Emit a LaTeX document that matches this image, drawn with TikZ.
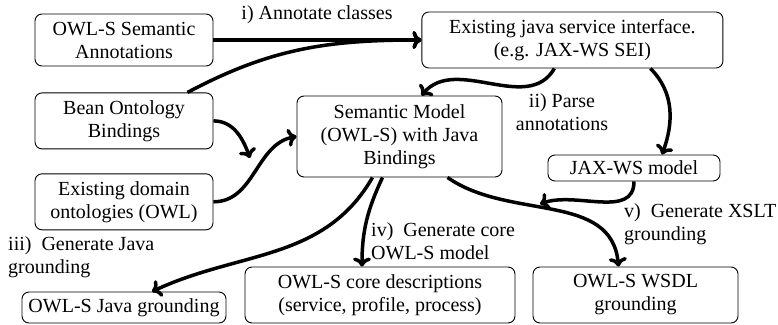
\documentclass[tikz,border=0pt]{standalone}
\usepackage{fontspec}
\setmainfont{Liberation Serif}
\usetikzlibrary{arrows.meta, positioning}

\begin{document}
\begin{tikzpicture}[
			x=1pt, y=-1pt,
			font=\fontsize{20}{23}\selectfont,
			node distance=25pt and 208pt,
			block/.style={draw, rectangle, rounded corners=7pt, align=center, line width=0.9pt, inner sep=2pt},
			label/.style={align=left, inner sep=0pt},
			arrow/.style={-{To[length=9pt,width=18pt]}, line width=3.5pt}
			]
			\useasboundingbox (0,0) rectangle (778,324);
			
			% Nodes
			\node (annot) [block, minimum width=178pt, minimum height=52pt] at (124,40) {OWL-S Semantic\\Annotations};
			\node (bean) [block, minimum width=178pt, minimum height=56pt, below=26pt of annot] {Bean Ontology\\Bindings};
			\node (domain) [block, minimum width=178pt, minimum height=56pt, below=24pt of bean] {Existing domain\\ontologies (OWL)};
			\node (sei) [block, minimum width=301pt, minimum height=56pt, right=of annot] {Existing java service interface.\\(e.g. JAX-WS SEI)};
			\node (model) [block, minimum width=205pt, minimum height=81pt] at (399.5,136.5) {Semantic Model\\(OWL-S) with Java\\Bindings};
			\node (jaxws) [block, minimum width=172pt, minimum height=26pt] at (634,168) {JAX-WS model};
			\node (javagr) [block, minimum width=204pt, minimum height=31pt] at (124,307.5) {OWL-S Java grounding};
			\node (core) [block, minimum width=270pt, minimum height=56pt] at (380,295) {OWL-S core descriptions\\(service, profile, process)};
			\node (wsdl) [block, minimum width=205pt, minimum height=56pt] at (635.5,295) {OWL-S WSDL\\grounding};
			
			% Labels
			\node (lbl_annot) [label] at (317,15) {i) Annotate classes};
			\node (lbl_parse) [label, align=center] at (562,112) {ii) Parse\\annotations};
			\node (lbl_java) [label, anchor=west] at (8,257) {iii)\ \ Generate Java\\grounding};
			\node (lbl_core) [label, anchor=west] at (371,241) {iv)\ \ Generate core\\OWL-S model};
			\node (lbl_xslt) [label, anchor=west] at (624,224) {v)\ \ Generate XSLT\\grounding};
			
			% Merge points
			\coordinate (merge_bean) at (250,158);
			\coordinate (merge_jax) at (540,204);
			
			% Connections
			\draw [arrow] (annot.east) -- (sei.west);
			\draw [arrow] ([xshift=-26pt]bean.north east) to[out=28,in=180] (sei.west);
			\draw [arrow] (bean.east) to[out=0,in=110] (merge_bean);
			\draw [arrow] (domain.east) to[out=0,in=190] (model.west);
			\draw [arrow] ([xshift=-18pt]sei.south) to[out=-120,in=50] ([xshift=22pt]model.north);
			\draw [arrow] ([xshift=78pt]sei.south) to[out=-45,in=70] ([xshift=28pt]jaxws.north);
			\draw [arrow] (jaxws.south) to[out=-90,in=20] (merge_jax);
			\draw [arrow] ([xshift=48pt]model.south) to[out=-35,in=95] ([xshift=-17pt]wsdl.north);
			\draw [arrow] ([xshift=-27pt]model.south) to[out=-120,in=25] ([xshift=28pt]javagr.north);
			\draw [arrow] ([xshift=-17pt]model.south) to[out=-115,in=90] ([xshift=-18pt]core.north);
			
		\end{tikzpicture}
\end{document}
